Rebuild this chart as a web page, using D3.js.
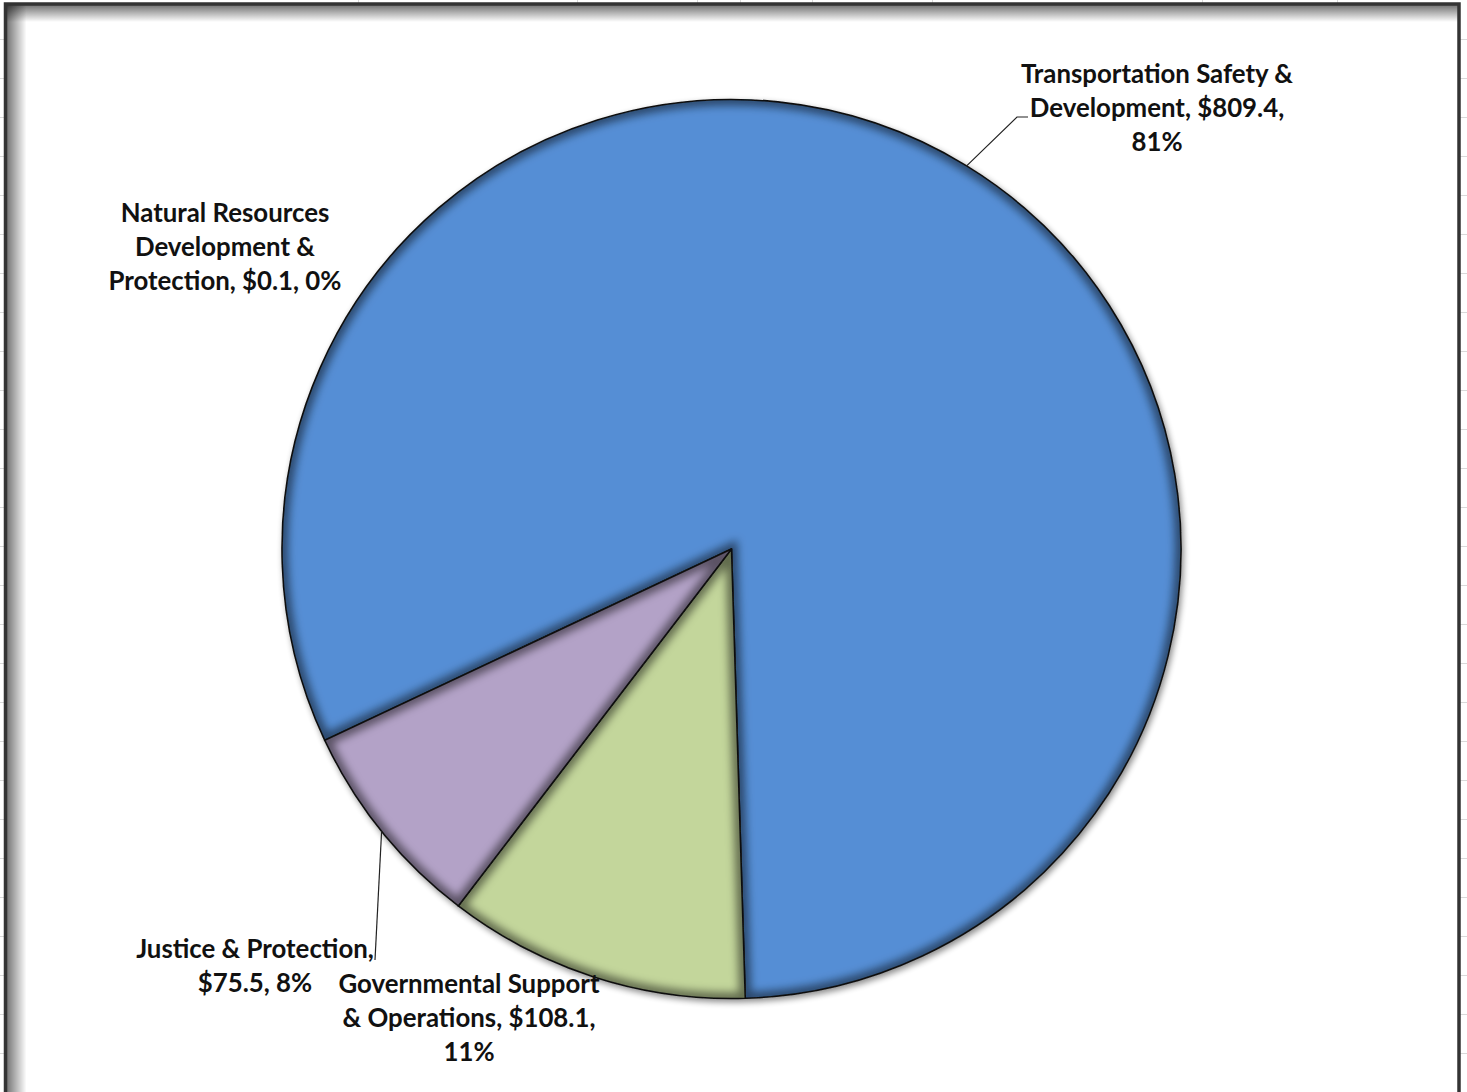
<!DOCTYPE html>
<html>
<head>
<meta charset="utf-8">
<script src="https://cdn.jsdelivr.net/npm/d3@7"></script>
<style>
  html, body { margin: 0; padding: 0; background: #fff; }
  svg { display: block; }
  .label { font-family: Lato, "Open Sans", sans-serif; font-weight: bold; fill: #111; }
</style>
</head>
<body>
<div id="chart"></div>
<script>
// ---- data ----
const categories = [
    "Natural Resources Development & Protection",
    "Transportation Safety & Development",
    "Governmental Support & Operations",
    "Justice & Protection"
];
const values = [0.1, 809.4, 108.1, 75.5];
const percentLabels = ["0%", "81%", "11%", "8%"];
const sliceColors = ["#4f81bd", "#558ed5", "#c3d69b", "#b3a2c7"];

// label text split the way the chart wraps it
const labelLines = [
    ["Natural Resources", "Development &", "Protection, $0.1, 0%"],
    ["Transportation Safety &", "Development, $809.4,", "81%"],
    ["Governmental Support", "& Operations, $108.1,", "11%"],
    ["Justice & Protection,", "$75.5, 8%"]
];

// ---- layout ----
const W = 1467, H = 1092;
const cx = 731.5, cy = 549, radius = 449.5;
const firstSliceAngle = 244.8;  // degrees, clockwise from 12 o'clock
const lineHeight = 34;

// where each label block sits (centre x, first baseline) and its leader, if any
const labelPos = [
    {x: 225, y: 222, leader: null},
    {x: 1157, y: 83, leader: [[1017, 117], [1028, 117]]},
    {x: 469, y: 993, leader: null},
    {x: 255, y: 958, leader: [[375, 960]]}
];

const svg = d3.select("#chart").append("svg")
    .attr("width", W)
    .attr("height", H);

const defs = svg.append("defs");

// blur used for the shading along the slice edges
defs.append("filter").attr("id", "edgeBlur")
    .attr("x", "-10%").attr("y", "-10%").attr("width", "120%").attr("height", "120%")
    .append("feGaussianBlur").attr("stdDeviation", 4);

// soft drop shadow under the whole pie
let drop = defs.append("filter").attr("id", "dropShadow")
    .attr("x", "-5%").attr("y", "-5%").attr("width", "110%").attr("height", "110%");
drop.append("feGaussianBlur").attr("in", "SourceAlpha").attr("stdDeviation", 3).attr("result", "b");
drop.append("feOffset").attr("in", "b").attr("dx", 2).attr("dy", 3).attr("result", "o");
drop.append("feComponentTransfer").attr("in", "o").attr("result", "o2")
    .append("feFuncA").attr("type", "linear").attr("slope", 0.45);
let dm = drop.append("feMerge");
dm.append("feMergeNode").attr("in", "o2");
dm.append("feMergeNode").attr("in", "SourceGraphic");

// shadow gradients for the chart frame (top and left)
let gTop = defs.append("linearGradient").attr("id", "shTop").attr("x1", 0).attr("y1", 0).attr("x2", 0).attr("y2", 1);
gTop.append("stop").attr("offset", "0%").attr("stop-color", "#000").attr("stop-opacity", 0.55);
gTop.append("stop").attr("offset", "100%").attr("stop-color", "#000").attr("stop-opacity", 0);
let gLeft = defs.append("linearGradient").attr("id", "shLeft").attr("x1", 0).attr("y1", 0).attr("x2", 1).attr("y2", 0);
gLeft.append("stop").attr("offset", "0%").attr("stop-color", "#000").attr("stop-opacity", 0.55);
gLeft.append("stop").attr("offset", "100%").attr("stop-color", "#000").attr("stop-opacity", 0);

// spreadsheet cell lines peeking out around the chart
const colLines = [358, 577, 697, 740, 812, 932, 1202, 1337];
const grid = svg.append("g").attr("stroke", "#d9d9d9").attr("stroke-width", 1);
grid.selectAll(".col").data(colLines).enter().append("line")
    .attr("x1", d => d + 0.5).attr("x2", d => d + 0.5).attr("y1", 0).attr("y2", H);
grid.selectAll(".row").data(d3.range(39, H, 39)).enter().append("line")
    .attr("y1", d => d + 0.5).attr("y2", d => d + 0.5).attr("x1", 0).attr("x2", W);

// chart area
const frame = {x: 5.5, y: 4, w: 1453.5, h: 1100};
svg.append("rect")
    .attr("x", frame.x).attr("y", frame.y).attr("width", frame.w).attr("height", frame.h)
    .attr("fill", "#fff");
svg.append("rect")
    .attr("x", frame.x + 1).attr("y", frame.y + 1).attr("width", frame.w - 2).attr("height", 17)
    .attr("fill", "url(#shTop)");
svg.append("rect")
    .attr("x", frame.x + 1).attr("y", frame.y + 1).attr("width", 20).attr("height", frame.h)
    .attr("fill", "url(#shLeft)");
svg.append("rect")
    .attr("x", frame.x).attr("y", frame.y).attr("width", frame.w).attr("height", frame.h)
    .attr("fill", "none")
    .attr("stroke", "#333")
    .attr("stroke-width", 3.5);

// ---- pie ----
const rad = deg => deg * Math.PI / 180;

const color = d3.scaleOrdinal()
    .domain(categories)
    .range(sliceColors);

const pie = d3.pie()
    .sort(null)
    .value(d => d.value)
    .startAngle(rad(firstSliceAngle))
    .endAngle(rad(firstSliceAngle + 360));

const arc = d3.arc()
    .innerRadius(0)
    .outerRadius(radius);

const data = categories.map((c, i) => ({name: c, value: values[i], pct: percentLabels[i], i: i}));
const arcs = pie(data);

// clip paths, one per slice, to keep the edge shading inside it
defs.selectAll(".sliceClip")
    .data(arcs)
    .enter()
    .append("clipPath")
    .attr("class", "sliceClip")
    .attr("id", (d, i) => "clip" + i)
    .append("path")
    .attr("d", arc);

const pieG = svg.append("g")
    .attr("transform", `translate(${cx},${cy})`)
    .attr("filter", "url(#dropShadow)");

const slices = pieG.selectAll(".slice")
    .data(arcs)
    .enter()
    .append("g")
    .attr("class", "slice");

slices.append("path")
    .attr("d", arc)
    .attr("fill", d => color(d.data.name));

// dark blurred band along the inside of every slice edge
slices.append("g")
    .attr("clip-path", (d, i) => `url(#clip${i})`)
    .append("path")
    .attr("d", arc)
    .attr("fill", "none")
    .attr("stroke", "#000")
    .attr("stroke-opacity", 0.5)
    .attr("stroke-width", 12)
    .attr("filter", "url(#edgeBlur)");

slices.append("path")
    .attr("d", arc)
    .attr("fill", "none")
    .attr("stroke", "#111")
    .attr("stroke-width", 1.6)
    .attr("stroke-linejoin", "round");

// ---- leader lines ----
arcs.forEach((d, i) => {
    let pos = labelPos[i];
    if (!pos.leader) return;
    // point on the rim at the slice's middle angle
    let mid = (d.startAngle + d.endAngle) / 2;
    let p0 = [cx + radius * Math.sin(mid), cy - radius * Math.cos(mid)];
    let pts = [p0].concat(pos.leader);
    svg.append("path")
        .attr("d", d3.line()(pts))
        .attr("fill", "none")
        .attr("stroke", "#222")
        .attr("stroke-width", 1.2);
});

// ---- labels ----
labelLines.forEach((lines, i) => {
    let pos = labelPos[i];
    let t = svg.append("text")
        .attr("class", "label")
        .attr("text-anchor", "middle")
        .style("font-size", "25.8px");
    lines.forEach((ln, k) => {
        t.append("tspan")
            .attr("x", pos.x)
            .attr("y", pos.y + k * lineHeight)
            .text(ln);
    });
});
</script>
</body>
</html>
